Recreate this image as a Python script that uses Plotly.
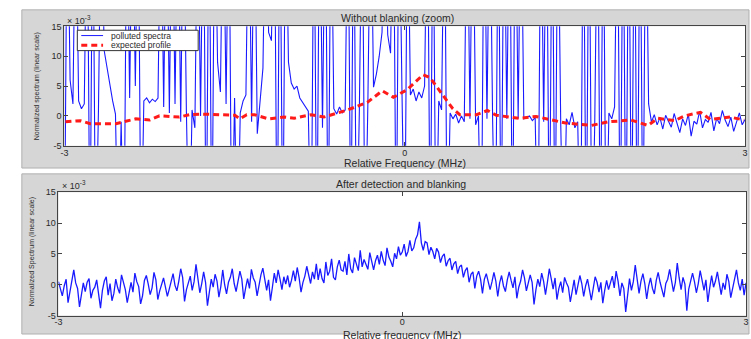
import numpy as np
import plotly.graph_objects as go

# ---------------- data (values in units of 1e-3) ----------------
# top panel: polluted spectra (out-of-range values are clipped by the axis)
polluted = [
    -25, 40, 6, 2, 40, 2.5, 1.2, 2, 40, -25,
    40, -25, 1, 40, 11, 8, 5, 2.5, 0.3, -25,
    -1, -25, 40, 3, 40, 5, 40, -25, 2.5, 3,
    2.2, 2.8, 2.4, 3, 40, 1.5, 40, 0.5, 40, 2,
    40, -1, 40, 1, -25, 1, -2, 40, 0, 40,
    -25, 40, -25, 40, 9, 4, 40, 2, 40, -25,
    3, -25, 0.5, 2.5, 3.5, 40, -1, 40, -3, 2,
    8, 40, 14, 12.6, 40, -25, 40, -25, 40, 9,
    5.5, 4.5, 5, 3, 2.2, 1.5, 0.8, -25, 40, -25,
    40, -2, 40, -25, 40, 1.2, 0.3, 1.5, 0.5, 1,
    40, -25, 40, -25, 1, 40, -25, 2, 40, 4.8,
    7, 10, 14, 40, 13.6, 10.5, 40, -25, 40, 5,
    -25, 40, 3.5, 4.5, 2.5, 4, 3, 5, 40, -25,
    40, -25, 2.5, 1, 40, -25, 0.5, -0.5, 0.3, -1.2,
    0, -1, 40, -0.5, 40, -1.5, 0, -25, 40, -0.5,
    40, -1, -25, 40, -25, 40, -0.5, 40, -25, 40,
    -0.5, 40, -0.5, -0.2, 0, -0.8, -0.3, -25, 40, -1,
    40, -25, 40, -25, 40, -1, -25, -0.5, -1.5, 0.6,
    -2, -1, -25, 40, -25, 40, -25, -1.5, 40, -25,
    40, -25, 0.5, -0.5, 1.5, 40, -25, 40, -25, 40,
    -25, 40, -25, 40, -25, 40, 2, -1, 0.2, -1.5,
    -0.3, -2.2, 0.1, -0.8, -1.9, 0.4, -1.2, -2.8, -0.5, -1.6,
    0.3, -3.4, -0.9, -1.4, 0.8, -2.0, -0.6, -1.1, 0.6, -2.5,
    -0.4, -1.3, 0.9, -0.7, -1.8, -0.2, -2.6, -0.9, 0.5, -1.5,
    -0.6,
]

# top panel: expected profile
profile_freq = [-2.991, -2.860, -2.773, -2.546, -2.371, -2.249, -2.162, -1.987, -1.900, -1.786,
                -1.498, -1.454, -1.393, -1.323, -1.201, -1.061, -0.974, -0.825, -0.712, -0.502,
                -0.328, -0.197, -0.100, 0.022, 0.162, 0.223, 0.424, 0.485, 0.633, 0.729,
                0.808, 0.921, 1.009, 1.157, 1.419, 1.646, 1.795, 1.996, 2.144, 2.231,
                2.380, 2.467, 2.607, 2.694, 2.869, 2.991]
profile_vals = [-1.0, -0.8, -1.3, -1.3, -0.5, -0.7, 0.0, -0.2, 0.2, 0.3,
                0.1, -0.5, 0.2, 0.2, -0.5, -0.2, -0.4, 0.2, -0.2, 1.0,
                2.3, 4.2, 3.1, 4.4, 6.9, 6.4, 1.2, 0.2, 0.2, 0.9,
                0.1, -0.2, -0.4, -0.1, -1.2, -1.6, -1.0, -0.7, -1.6, -0.4,
                -0.8, 0.0, 0.6, -0.6, -0.2, -0.7]

# bottom panel: after detection and blanking
blanked = [
    0.5, -0.8, -1.8, -0.2, 0.9, -2.9, -1.0, 1.2, 2.4, 0.3, -0.6, -3.6, -1.5, 0.3, -1.1, 0.4, 1.0, -2.2, -0.9, -0.4,
    0.8, -1.2, -3.8, -0.9, 0.6, 1.3, -1.7, 0.2, -2.6, -1.4, 0.9, -0.5, -1.4, 1.6, 0.2, -0.8, -2.9, -1.1, 0.4, -1.2,
    1.9, 0.5, -0.3, -3.1, -1.8, 0.7, 1.5, 0.1, -1.6, -0.5, 2.0, 0.8, -2.4, -1.0, 0.1, 1.1, -0.4, -1.9, -0.7, 0.6,
    1.8, -0.1, -1.0, 0.6, 2.6, 1.2, -2.7, -0.8, 0.3, 1.4, -0.9, 0.5, 3.3, 0.9, -1.3, 0.2, 2.1, 0.4, -3.4, -1.2,
    0.9, -0.4, 1.7, 0.6, -2.0, -0.3, 2.4, 0.0, -1.5, 0.4, 1.2, 2.6, 0.2, -1.1, 0.5, 2.2, 0.9, -2.3, -0.5, 1.0,
    -0.6, 2.5, 1.1, 0.4, -1.8, 0.3, 1.6, 2.7, 0.6, -0.9, 0.8, -2.6, -0.4, 1.9, 0.3, 2.4, 0.9, -0.8, 1.3, 0.1,
    1.5, -0.4, 0.7, 2.3, 0.6, 2.8, 1.1, -1.2, 0.4, 1.4, 3.0, 1.6, 0.2, 2.1, 0.9, 3.4, 0.8, 2.6, 1.0, 0.3,
    3.7, 1.5, 2.2, 4.2, 1.2, 0.8, 2.9, 4.0, 2.4, 2.2, 3.8, 1.6, 5.0, 2.6, 1.9, 4.4, 3.1, 2.3, 5.6, 2.9,
    4.1, 3.4, 2.5, 5.2, 3.6, 2.4, 3.9, 4.8, 3.3, 5.4, 4.0, 3.1, 6.0, 4.5, 3.8, 2.9, 5.1, 4.2, 6.2, 4.8,
    5.3, 6.6, 4.6, 5.4, 7.2, 5.5, 6.0, 7.4, 8.1, 10.2, 6.8, 5.6, 7.0, 6.8, 4.9, 6.1, 5.4, 4.2, 5.9, 5.3,
    3.6, 4.6, 5.0, 3.0, 3.9, 4.3, 2.4, 3.4, 3.8, 1.8, 2.9, 3.2, 1.2, 2.3, 2.8, 0.4, 1.7, 2.1, -0.6, 1.4,
    2.2, 0.9, -1.4, 0.9, 1.8, 0.3, -0.8, 0.5, 2.0, 0.6, -1.9, 0.3, 1.5, -0.2, -1.1, 0.8, 2.1, 0.7, -0.5, 1.3,
    -2.2, -0.4, 0.6, 2.4, 1.1, -1.0, 0.2, 1.6, 0.4, -3.2, -0.8, 0.9, -0.3, 1.9, 0.6, -1.6, 0.4, 2.6, 1.0, -0.7,
    1.1, -2.4, -0.6, 0.5, -1.3, 1.2, 0.3, -0.4, -2.8, -1.1, 0.8, -1.6, 0.1, 1.5, 0.2, -1.9, -0.2, 0.9, -0.8, -2.5,
    -0.6, 1.3, 0.4, -1.2, 0.4, -3.0, -0.9, 0.7, -0.8, 0.3, 1.4, -0.5, 2.2, 0.6, -1.8, 0.3, -0.6, -4.4, -1.2, 1.0,
    -0.9, 0.5, 3.2, 0.8, -1.4, 0.6, 1.8, 0.2, -2.3, -0.2, 1.1, -0.6, -1.5, 0.7, 2.0, 0.4, -0.6, -2.0, 0.2, 0.9,
    2.5, 0.6, -1.1, 0.4, 3.5, 1.1, -0.8, 1.2, 0.1, -4.2, -0.7, 0.6, 1.9, 0.5, -1.3, 0.2, 2.3, 0.7, -0.9, 0.8,
    -2.8, -0.5, 1.5, -0.4, 0.6, 2.1, 0.2, -1.6, 0.3, -0.8, 1.7, 0.5, -2.1, -0.6, 1.2, 2.4, 0.3, -0.9, 0.9, -1.7,
    0.3,
]

freq_top = np.linspace(-3, 3, len(polluted))
freq_bot = np.linspace(-3, 3, len(blanked))

x_ticks = [-3, 0, 3]
x_ticklabels = ["-3", "0", "3"]
y_ticks = [-5, 0, 5, 10, 15]
y_ticklabels = ["-5", "0", "5", "10", "15"]

# ---------------- figure ----------------
W, H = 751, 339
FONT = "Liberation Sans"
TXT = "#2a2a2a"
BLUE = "#1a1aff"
RED = "#ff1a1a"

fig = go.Figure()
fig.add_trace(go.Scatter(x=freq_top, y=polluted, mode="lines",
                         line=dict(color=BLUE, width=1.1), name="polluted spectra",
                         xaxis="x", yaxis="y", showlegend=False))
fig.add_trace(go.Scatter(x=profile_freq, y=profile_vals, mode="lines",
                         line=dict(color=RED, width=3, dash="6px,4px"), name="expected profile",
                         xaxis="x", yaxis="y", showlegend=False))
fig.add_trace(go.Scatter(x=freq_bot, y=blanked, mode="lines",
                         line=dict(color=BLUE, width=1.3), name="after blanking",
                         xaxis="x2", yaxis="y2", showlegend=False))

def px(xp):
    return xp / W

def py(yp):
    return 1 - yp / H

axis_common = dict(showgrid=False, zeroline=False, ticks="inside", ticklen=4,
                   tickcolor="#444", linecolor="#444", linewidth=1, mirror="ticks",
                   showline=True, tickfont=dict(family=FONT, size=9, color=TXT))

TOP = (61, 748, 22, 145)
BOT = (55, 749, 193, 320)

fig.update_layout(
    width=W, height=H, autosize=False,
    margin=dict(l=0, r=0, t=0, b=0),
    paper_bgcolor="white", plot_bgcolor="white",
    font=dict(family=FONT, color=TXT),
    xaxis=dict(domain=[px(TOP[0]), px(TOP[1])], anchor="y", range=[-3, 3],
               tickvals=x_ticks, ticktext=x_ticklabels, ticklabelstandoff=-2, **axis_common),
    yaxis=dict(domain=[py(TOP[3]), py(TOP[2])], anchor="x", range=[-5, 15],
               tickvals=y_ticks, ticktext=y_ticklabels, **axis_common),
    xaxis2=dict(domain=[px(BOT[0]), px(BOT[1])], anchor="y2", range=[-3, 3],
                tickvals=x_ticks, ticktext=x_ticklabels, ticklabelstandoff=-2, **axis_common),
    yaxis2=dict(domain=[py(BOT[3]), py(BOT[2])], anchor="x2", range=[-5, 15],
                tickvals=y_ticks, ticktext=y_ticklabels, **axis_common),
)

# gray figure panels (MATLAB-style background) + white axes areas
for (y0, y1), box in [((5, 168), TOP), ((174, 339), BOT)]:
    fig.add_shape(type="rect", xref="paper", yref="paper",
                  x0=px(18), x1=px(752), y0=py(y1), y1=py(y0),
                  fillcolor="#d6d6d6", line=dict(color="#b0b0b0", width=1), layer="below")
    fig.add_shape(type="rect", xref="paper", yref="paper",
                  x0=px(box[0]), x1=px(box[1]), y0=py(box[3]), y1=py(box[2]),
                  fillcolor="white", line=dict(width=0), layer="below")

def ann(x, y, text, size=9, angle=0, xanchor="center", yanchor="middle"):
    fig.add_annotation(x=px(x), y=py(y), xref="paper", yref="paper", text=text,
                       showarrow=False, textangle=angle, xanchor=xanchor, yanchor=yanchor,
                       font=dict(family=FONT, size=size, color=TXT))

ann(397, 13, "Without blanking (zoom)", 10.5)
ann(405, 163, "Relative Frequency (MHz)", 10.5)
ann(33, 84, "Normalized spectrum (linear scale)", 7, angle=-90)
ann(62, 15, "× 10<sup>-3</sup>", 9, xanchor="left")

ann(401, 184, "After detection and blanking", 10.5)
ann(402, 340, "Relative frequency (MHz)", 10.5)
ann(28, 254, "Normalized Spectrum (linear scale)", 7, angle=-90)
ann(57, 185, "× 10<sup>-3</sup>", 9, xanchor="left")

# legend box (top panel)
fig.add_shape(type="rect", xref="paper", yref="paper", x0=px(74), x1=px(196), y0=py(47), y1=py(26),
              fillcolor="white", line=dict(color="#333", width=1), layer="above")
fig.add_shape(type="line", xref="paper", yref="paper", x0=px(78), x1=px(100), y0=py(31.5), y1=py(31.5),
              line=dict(color=BLUE, width=1), layer="above")
fig.add_shape(type="line", xref="paper", yref="paper", x0=px(78), x1=px(100), y0=py(41.5), y1=py(41.5),
              line=dict(color=RED, width=3, dash="6px,4px"), layer="above")
ann(106, 31.5, "polluted spectra", 8.5, xanchor="left")
ann(106, 41.5, "expected profile", 8.5, xanchor="left")

fig.write_html("out.html")
